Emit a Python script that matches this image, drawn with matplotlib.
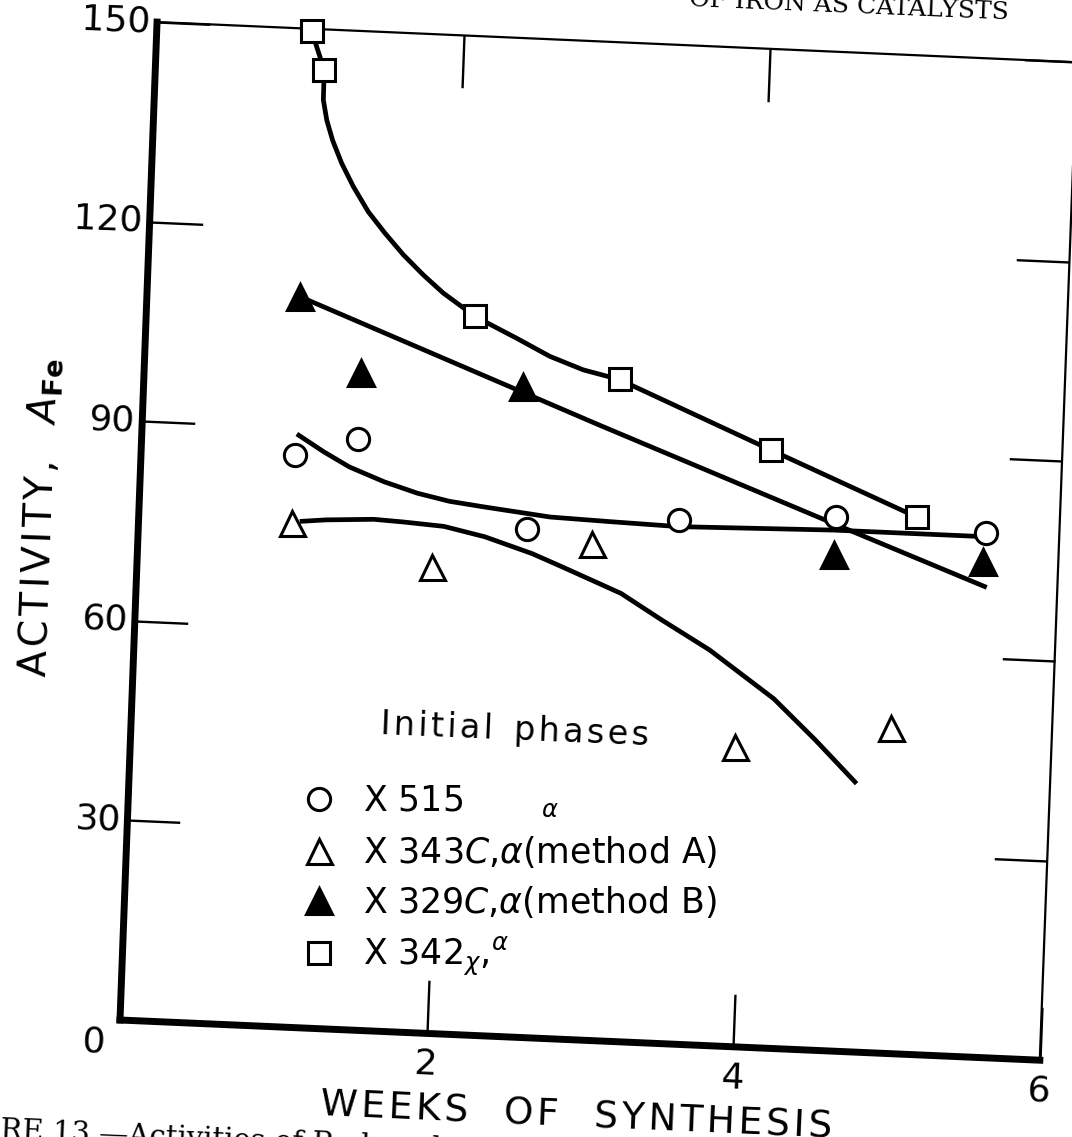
"""
Activity of iron catalysts vs weeks of synthesis (scanned figure, slightly tilted).
"""

import numpy as np
import matplotlib
matplotlib.use("Agg")
import matplotlib.pyplot as plt
from matplotlib.transforms import Affine2D
import mpl_toolkits.axisartist.floating_axes as floating_axes
from mpl_toolkits.axisartist.grid_finder import FixedLocator, DictFormatter


# ---------------------------------------------------------------------------
# Data (in weeks / A_Fe)
# ---------------------------------------------------------------------------
circ_x = [1.00, 1.41, 2.53, 3.52, 4.54, 5.52]
circ_y = [86.0, 88.8, 76.4, 78.7, 80.2, 78.7]

otri_x = [1.00, 1.92, 2.96, 3.94, 4.95]
otri_y = [75.7, 70.0, 74.6, 45.0, 48.8]

ftri_x = [1.00, 1.41, 2.47, 4.54, 5.51]
ftri_y = [109.7, 98.6, 97.7, 74.5, 74.4]

sq_x = [1.01, 1.10, 2.14, 3.10, 4.10, 5.07]
sq_y = [149.6, 143.9, 107.9, 99.4, 89.8, 80.7]

# hand-drawn curves, traced point by point
circ_curve_x = [1.01, 1.19, 1.36, 1.59, 1.81, 2.02, 2.24, 2.68, 3.07, 3.52, 4.53, 5.54]
circ_curve_y = [89.1, 86.6, 84.5, 82.5, 81.0, 80.0, 79.4, 78.3, 78.0, 77.7, 78.2, 78.2]

otri_curve_x = [1.05, 1.22, 1.53, 1.72, 1.99, 2.26, 2.57, 2.77, 3.16, 3.43,
                3.75, 4.18, 4.46, 4.74]
otri_curve_y = [76.0, 76.4, 76.8, 76.6, 76.2, 74.9, 72.7, 70.9, 67.3, 63.6,
                59.4, 52.5, 46.6, 40.3]

ftri_curve_x = [1.00, 2.98, 4.63, 5.54]
ftri_curve_y = [109.7, 92.4, 78.3, 70.6]

sq_curve_x = [1.01, 1.10, 1.102, 1.129, 1.172, 1.237, 1.318, 1.422, 1.536,
              1.660, 1.795, 1.930, 2.053, 2.142, 2.419, 2.640, 2.860, 3.095,
              4.102, 5.067]
sq_curve_y = [149.6, 143.9, 139.4, 136.4, 133.4, 130.0, 126.6, 122.9, 119.8,
              116.7, 113.8, 111.2, 109.3, 107.9, 104.9, 102.4, 100.6, 99.4,
              89.8, 80.7]

X_TICKS = [2, 4, 6]
X_LABELS = {2: "2", 4: "4", 6: "6"}
Y_TICKS = [30, 60, 90, 120, 150]
Y_LABELS = {30: "30", 60: "60", 90: "90", 120: "120", 150: "150"}

HS = "\u200a"  # hair space, to open up the hand lettering a bit
LABELS = [
    r"X 515       ${}_{\alpha}$",
    r"X 343$\mathit{C}$,$\alpha$(method A)",
    r"X 329$\mathit{C}$,$\alpha$(method B)",
    r"X 342$_{\chi}$,$^{\alpha}$",
]
XLABEL = "   ".join(HS.join(w) for w in ["WEEKS", "OF", "SYNTHESIS"])
YLABEL = HS.join("ACTIVITY,") + r"   $\mathit{A}_{\mathbf{Fe}}$"

# ---------------------------------------------------------------------------
# Figure geometry: data -> pixel map of the tilted scan
# ---------------------------------------------------------------------------
W, H = 1072, 1137
SCAN = np.array([[153.3, 0.247, 120.0],
                 [-6.7, 6.653, 117.0],
                 [0.0, 0.0, 1.0]])
TILT = -2.4

plt.rcParams["font.family"] = ["DejaVu Sans"]
plt.rcParams["mathtext.fontset"] = "dejavusans"

fig = plt.figure(figsize=(W / 100, H / 100), dpi=100)
fig.patch.set_facecolor("white")

tr = Affine2D(SCAN)
gh = floating_axes.GridHelperCurveLinear(
    tr, extremes=(0, 6, 0, 150),
    grid_locator1=FixedLocator(X_TICKS),
    grid_locator2=FixedLocator(Y_TICKS),
    tick_formatter1=DictFormatter(X_LABELS),
    tick_formatter2=DictFormatter(Y_LABELS),
)

corners = tr.transform([(0, 0), (6, 0), (0, 150), (6, 150)])
(x0, y0), (x1, y1) = corners.min(axis=0), corners.max(axis=0)
cx, cy = (x0 + x1) / 2, (y0 + y1) / 2
bw, bh = (x1 - x0) * 1.02, (y1 - y0) * 1.02
ax = fig.add_axes([(cx - bw / 2) / W, (cy - bh / 2) / H, bw / W, bh / H],
                  axes_class=floating_axes.FloatingAxes, grid_helper=gh)
aux = ax.get_aux_axes(tr)

for side, lw in [("left", 5.0), ("bottom", 5.0), ("right", 1.6), ("top", 1.6)]:
    a = ax.axis[side]
    a.line.set_linewidth(lw)
    a.major_ticks.set_ticksize(38)
    a.major_ticks.set_markeredgewidth(1.7)
    a.major_ticklabels.set_fontsize(26)

ax.axis["top"].major_ticklabels.set_visible(False)
ax.axis["right"].major_ticklabels.set_visible(False)
ax.axis["left"].major_ticklabels.set_pad(5)
ax.axis["bottom"].major_ticklabels.set_pad(11)

ax.axis["bottom"].label.set_text(XLABEL)
ax.axis["bottom"].label.set_fontsize(27)
ax.axis["bottom"].label.set_pad(12)
ax.axis["bottom"].label.set_visible(True)
ax.axis["left"].label.set_text(YLABEL)
ax.axis["left"].label.set_fontsize(28)
ax.axis["left"].label.set_pad(2)
ax.axis["left"].label.set_visible(True)

# corner zero shared by both axes
aux.text(-0.17, -3.5, "0", fontsize=26, ha="center", va="center",
         rotation=TILT, clip_on=False)

# ---------------------------------------------------------------------------
# Curves and markers
# ---------------------------------------------------------------------------
curve_kw = dict(color="black", lw=3.4, solid_capstyle="butt",
                solid_joinstyle="round", clip_on=False, zorder=2)
aux.plot(circ_curve_x, circ_curve_y, **curve_kw)
aux.plot(otri_curve_x, otri_curve_y, **curve_kw)
aux.plot(ftri_curve_x, ftri_curve_y, **curve_kw)
aux.plot(sq_curve_x, sq_curve_y, **curve_kw)

mk = dict(ls="none", mec="black", mew=2.2, clip_on=False, zorder=4)
h_circ, = aux.plot(circ_x, circ_y, marker="o", ms=16, mfc="white", **mk)
h_otri, = aux.plot(otri_x, otri_y, marker="^", ms=18, mfc="white", **mk)
h_ftri, = aux.plot(ftri_x, ftri_y, marker="^", ms=19, mfc="black", **mk)
h_sq, = aux.plot(sq_x, sq_y, marker="s", ms=15.5, mfc="white", **mk)

# ---------------------------------------------------------------------------
# Legend block
# ---------------------------------------------------------------------------
fig.text(515 / W, 1 - 730 / H, HS.join("Initial") + "  " + HS.join("phases"),
         fontsize=24, ha="center", va="center", rotation=TILT)
fig.legend([h_circ, h_otri, h_ftri, h_sq], LABELS,
           loc="upper left", bbox_to_anchor=(302 / W, 1 - 784 / H),
           frameon=False, fontsize=25, handlelength=1.0, handletextpad=0.75,
           labelspacing=0.42, borderpad=0, borderaxespad=0)

# page furniture cut by the scan edges
fig.text(1008 / W, 1 - 19 / H, "OF IRON AS CATALYSTS", fontsize=18,
         family="DejaVu Serif", ha="right", va="baseline",
         rotation=TILT, rotation_mode="anchor")
fig.text(0 / W, 1 - 1139 / H, "RE 13.—Activities of Reduced", fontsize=21,
         family="DejaVu Serif", ha="left", va="baseline",
         rotation=TILT, rotation_mode="anchor")

fig.savefig("out.png", dpi=100, facecolor="white")
